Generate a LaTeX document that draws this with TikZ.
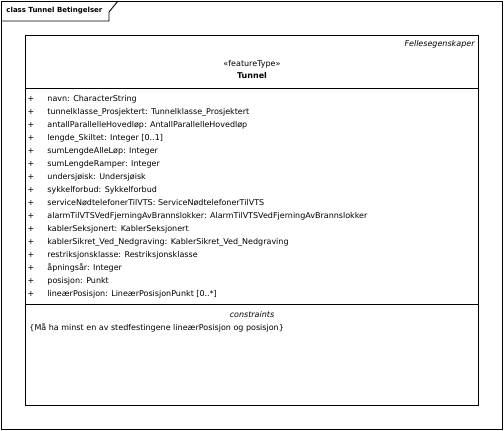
\documentclass[tikz,border=0pt]{standalone}
\usepackage{fontspec}
\setmainfont{DejaVu Sans}
\usetikzlibrary{positioning}

\begin{document}
\begin{tikzpicture}[x=1pt, y=-1pt, line width=0.9pt,
		umltext/.style={font=\fontsize{8}{9}\selectfont, inner sep=0pt},
		attr/.style={umltext, anchor=west},
		vis/.style={umltext, anchor=center},
		umlbox/.style={draw, anchor=north west, inner sep=0pt, outer sep=0pt}
		]
		\useasboundingbox (0,0) rectangle (504,431);
		
		% package frame
		\node[umlbox, minimum width=501pt, minimum height=428pt] (frame) at (1,1) {};
		\coordinate (tab) at (109,21);
		\draw (frame.west |- tab) -- (tab) -- ++(0,-9) -- (118,1);
		\node[umltext, font=\fontsize{7}{9}\selectfont\bfseries, anchor=west] (title) at (6,11) {class Tunnel Betingelser};
		
		% class box
		\node[umlbox, minimum width=453pt, minimum height=370pt] (tunnel) at (25,35) {};
		\coordinate (hdr) at (0,88);
		\coordinate (cns) at (0,304);
		\draw (tunnel.west |- hdr) -- (tunnel.east |- hdr);
		\draw (tunnel.west |- cns) -- (tunnel.east |- cns);
		
		%header
		\node[umltext, font=\fontsize{8}{9}\selectfont\itshape, anchor=east] (tag) at (475,44) {Fellesegenskaper};
		\node[umltext] (stereo) at (252,64) {«featureType»};
		\node[umltext, font=\fontsize{8}{9}\selectfont\bfseries] (name) at (252,76) {Tunnel};
		
		%attributes
		\node[vis] (p1) at (31,99) {+};
		\node[vis] (p2) at (31,112) {+};
		\node[vis] (p3) at (31,125) {+};
		\node[vis] (p4) at (31,138) {+};
		\node[vis] (p5) at (31,151) {+};
		\node[vis] (p6) at (31,164) {+};
		\node[vis] (p7) at (31,177) {+};
		\node[vis] (p8) at (31,190) {+};
		\node[vis] (p9) at (31,203) {+};
		\node[vis] (p10) at (31,216) {+};
		\node[vis] (p11) at (31,229) {+};
		\node[vis] (p12) at (31,242) {+};
		\node[vis] (p13) at (31,255) {+};
		\node[vis] (p14) at (31,268) {+};
		\node[vis] (p15) at (31,281) {+};
		\node[vis] (p16) at (31,294) {+};
		
		\node[attr] (a1) at (47,99) {navn: CharacterString};
		\node[attr] (a2) at (47,112) {tunnelklasse\_Prosjektert: Tunnelklasse\_Prosjektert};
		\node[attr] (a3) at (47,125) {antallParallelleHovedløp: AntallParallelleHovedløp};
		\node[attr] (a4) at (47,138) {lengde\_Skiltet: Integer [0..1]};
		\node[attr] (a5) at (47,151) {sumLengdeAlleLøp: Integer};
		\node[attr] (a6) at (47,164) {sumLengdeRamper: Integer};
		\node[attr] (a7) at (47,177) {undersjøisk: Undersjøisk};
		\node[attr] (a8) at (47,190) {sykkelforbud: Sykkelforbud};
		\node[attr] (a9) at (47,203) {serviceNødtelefonerTilVTS: ServiceNødtelefonerTilVTS};
		\node[attr] (a10) at (47,216) {alarmTilVTSVedFjerningAvBrannslokker: AlarmTilVTSVedFjerningAvBrannslokker};
		\node[attr] (a11) at (47,229) {kablerSeksjonert: KablerSeksjonert};
		\node[attr] (a12) at (47,242) {kablerSikret\_Ved\_Nedgraving: KablerSikret\_Ved\_Nedgraving};
		\node[attr] (a13) at (47,255) {restriksjonsklasse: Restriksjonsklasse};
		\node[attr] (a14) at (47,268) {åpningsår: Integer};
		\node[attr] (a15) at (47,281) {posisjon: Punkt};
		\node[attr] (a16) at (47,294) {lineærPosisjon: LineærPosisjonPunkt [0..*]};
		
		%constraints
		\node[umltext, font=\fontsize{8}{9}\selectfont\itshape] (chead) at (252,315) {constraints};
		\node[attr] (c1) at (29,328) {\{Må ha minst en av stedfestingene lineærPosisjon og posisjon\}};
	\end{tikzpicture}
\end{document}
